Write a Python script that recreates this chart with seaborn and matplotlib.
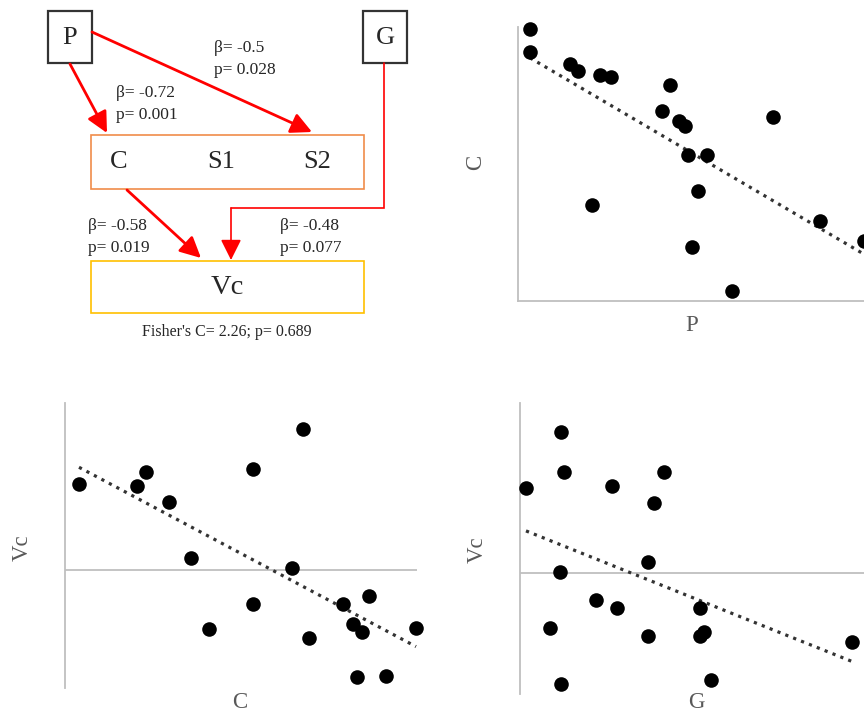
import numpy as np
import pandas as pd
import matplotlib
matplotlib.use('Agg')
import matplotlib.pyplot as plt
import seaborn as sns
from matplotlib.patches import Rectangle, FancyArrowPatch

sns.set_style('white')
plt.rcParams['font.family'] = ['Liberation Serif', 'DejaVu Serif']

# -----------------------------------------------------
# Data (arbitrary units)
# -----------------------------------------------------
# panel 1: C vs P
p_vals = [12, 12, 52, 60, 82, 93, 152, 144, 161, 167, 255, 170, 189, 180, 74, 302, 346, 174, 214]
c_vals = [272, 249, 237, 230, 226, 224, 216, 190, 180, 175, 184, 146, 146, 110, 96, 80, 60, 54, 10]

# panel 2: Vc vs C
c2_vals = [14, 81, 72, 104, 188, 238, 126, 227, 188, 144, 278, 304, 288, 297, 244, 351, 292, 321]
vc2_vals = [86, 98, 84, 68, 101, 141, 12, 2, -34, -59, -34, -26, -54, -62, -68, -58, -107, -106]

# panel 3: Vc vs G
g3_vals = [41, 44, 6, 92, 144, 134, 128, 40, 76, 97, 180, 30, 128, 184, 180, 332, 41, 191]
vc3_vals = [141, 101, 85, 87, 101, 70, 11, 1, -27, -35, -35, -55, -63, -59, -63, -69, -111, -107]

# path model coefficients
path_beta = [-0.72, -0.5, -0.58, -0.48]
path_p = [0.001, 0.028, 0.019, 0.077]
fisher_c = 2.26
fisher_p = 0.689

W, H = 864, 713
fig = plt.figure(figsize=(W / 100, H / 100), dpi=100)


def px_axes(left, top, right, bottom):
    # axes placed by pixel box
    return fig.add_axes([left / W, 1 - bottom / H, (right - left) / W, (bottom - top) / H])


grey = '#BFBFBF'
label_col = '#595959'


def scatter_panel(ax, x, y, xlim, ylim, zero_line):
    df = pd.DataFrame({'x': x, 'y': y})
    sns.regplot(data=df, x='x', y='y', ax=ax, scatter=False, ci=None, truncate=True,
                line_kws=dict(color='#333333', lw=2.3, ls=':'))
    sns.scatterplot(data=df, x='x', y='y', ax=ax, s=110, color='black', edgecolor='black',
                    linewidth=0, clip_on=False, zorder=5)
    ax.set_xlim(*xlim)
    ax.set_ylim(*ylim)
    ax.set_xticks([])
    ax.set_yticks([])
    ax.set_xlabel('')
    ax.set_ylabel('')
    for s in ['top', 'right']:
        ax.spines[s].set_visible(False)
    ax.spines['left'].set_color(grey)
    ax.spines['left'].set_linewidth(1.3)
    if zero_line:
        ax.spines['bottom'].set_visible(False)
        ax.axhline(0, color=grey, lw=1.3, zorder=1)
    else:
        ax.spines['bottom'].set_color(grey)
        ax.spines['bottom'].set_linewidth(1.3)


# -----------------------------------------------------
# Scatter panels
# -----------------------------------------------------
ax1 = px_axes(518, 27, 880, 301)
scatter_panel(ax1, p_vals, c_vals, (0, 362), (0, 274), False)
fig.text(692 / W, 1 - 326 / H, 'P', ha='center', va='center', fontsize=16.5, color=label_col)
fig.text(476 / W, 1 - 162 / H, 'C', ha='center', va='center', fontsize=16.5, color=label_col, rotation=90)

ax2 = px_axes(65, 403, 417, 688)
scatter_panel(ax2, c2_vals, vc2_vals, (0, 352), (-118, 167), True)
fig.text(240 / W, 1 - 702 / H, 'C', ha='center', va='center', fontsize=16.5, color=label_col)
fig.text(22 / W, 1 - 548 / H, 'Vc', ha='center', va='center', fontsize=16.5, color=label_col, rotation=90)

ax3 = px_axes(520, 403, 880, 694)
scatter_panel(ax3, g3_vals, vc3_vals, (0, 360), (-121, 170), True)
fig.text(696 / W, 1 - 702 / H, 'G', ha='center', va='center', fontsize=16.5, color=label_col)
fig.text(477 / W, 1 - 550 / H, 'Vc', ha='center', va='center', fontsize=16.5, color=label_col, rotation=90)

# -----------------------------------------------------
# Path diagram (pixel coordinates)
# -----------------------------------------------------
ax0 = fig.add_axes([0, 0, 1, 1], zorder=-1)
ax0.set_xlim(0, W)
ax0.set_ylim(H, 0)
ax0.axis('off')

def box(x0, y0, x1, y1, color, lw):
    ax0.add_patch(Rectangle((x0, y0), x1 - x0, y1 - y0, fill=False, edgecolor=color, lw=lw))

box(48, 11, 92, 63, '#333333', 1.6)
box(363, 11, 407, 63, '#333333', 1.6)
box(91, 135, 364, 189, '#F08C4A', 1.2)
box(91, 261, 364, 313, '#FFC000', 1.2)

big = 19
ax0.text(70, 38, 'P', ha='center', va='center', fontsize=big)
ax0.text(385, 38, 'G', ha='center', va='center', fontsize=big)
ax0.text(119, 162, 'C', ha='center', va='center', fontsize=big)
ax0.text(221, 162, 'S1', ha='center', va='center', fontsize=big)
ax0.text(317, 162, 'S2', ha='center', va='center', fontsize=big)
ax0.text(227, 288, 'Vc', ha='center', va='center', fontsize=20.5)

red = '#FF0000'

def arrow(start, end, lw):
    ax0.add_patch(FancyArrowPatch(start, end, arrowstyle='-|>,head_length=0.9,head_width=0.45',
                                  mutation_scale=14, color=red, lw=lw, shrinkA=0, shrinkB=0))

arrow((70, 64), (107, 133), 2.0)
arrow((92, 32), (312, 132), 2.0)
arrow((127, 190), (201, 258), 2.0)
ax0.plot([384, 384, 231], [63, 208, 208], color=red, lw=1.2, solid_joinstyle='miter')
arrow((231, 208), (231, 260), 1.2)

small = 12.5
coef_pos = [(116, 93), (214, 48), (88, 226), (280, 226)]
for (x, y), b, p in zip(coef_pos, path_beta, path_p):
    ax0.text(x, y, f'β= {b:g}', ha='left', va='center', fontsize=small)
    ax0.text(x, y + 22, f'p= {p:.3f}', ha='left', va='center', fontsize=small)

ax0.text(227, 332, f"Fisher's C= {fisher_c:.2f}; p= {fisher_p:.3f}", ha='center', va='center', fontsize=11.5)

fig.savefig('out.png', dpi=100)
